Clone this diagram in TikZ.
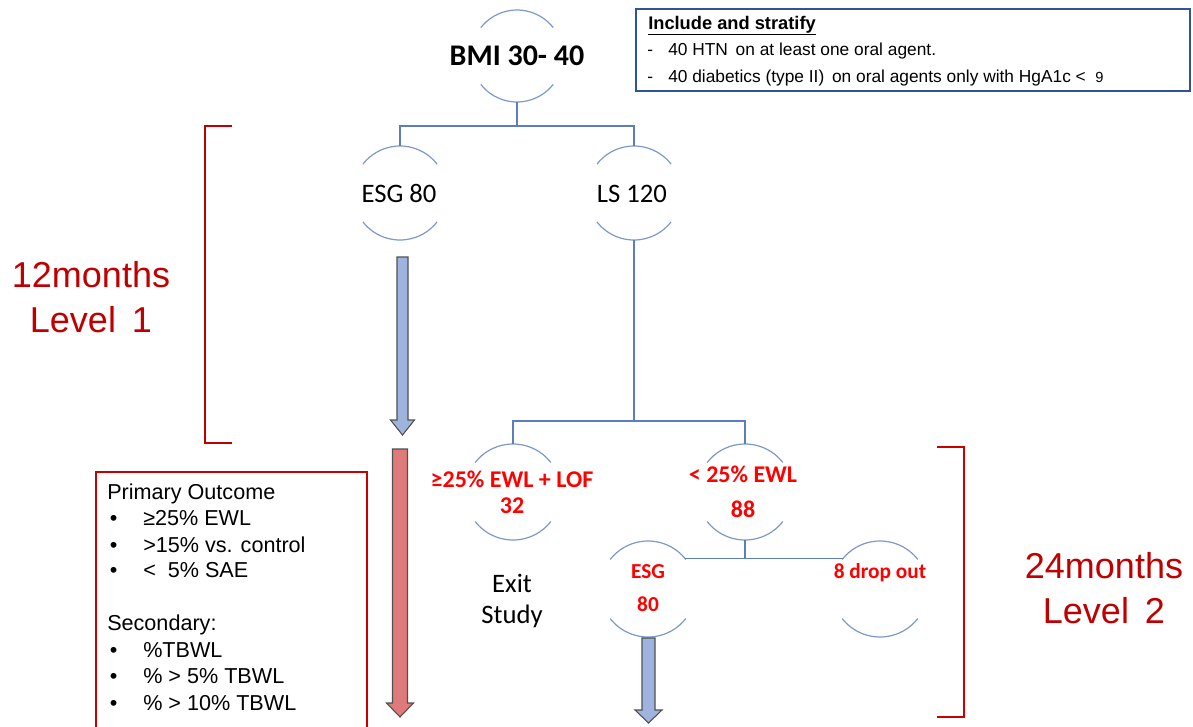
\documentclass[tikz,border=0pt]{standalone}
\usepackage{fontspec}
\setmainfont{Carlito}
\newfontfamily\arial{Liberation Sans}
\definecolor{arcblue}{RGB}{125,152,205}
\definecolor{connblue}{RGB}{92,126,190}
\definecolor{boxblue}{RGB}{47,85,151}
\definecolor{darkred}{RGB}{192,0,0}
\definecolor{brightred}{RGB}{255,0,0}
\definecolor{arrowblue}{RGB}{158,180,222}
\definecolor{arrowred}{RGB}{222,122,122}
\definecolor{arrowedge}{RGB}{80,80,80}
\newcommand{\ringarcs}[2]{%
  \draw[arcline] (#1.38) arc[start angle=38,end angle=142,radius=#2];
  \draw[arcline] (#1.218) arc[start angle=218,end angle=322,radius=#2];}
\newcommand{\fatarrow}[7]{%
  \draw[#1] ({#2-#5},#3) -- ({#2+#5},#3) -- ({#2+#5},{#4-#7}) -- ({#2+#6},{#4-#7})
    -- (#2,#4) -- ({#2-#6},{#4-#7}) -- ({#2-#5},{#4-#7}) -- cycle;}
\newcommand{\bul}[1]{\makebox[27pt][l]{\hspace*{2pt}•}#1}
\begin{document}
\begin{tikzpicture}[x=0.75pt,y=-0.75pt,
  ring/.style={circle,inner sep=0pt,outer sep=0pt,minimum size=#1},
  arcline/.style={draw=arcblue,line width=0.9pt},
  conn/.style={draw=connblue,line width=0.9pt},
  bigtxt/.style={font=\fontsize{22.5}{27}\selectfont\bfseries,anchor=base},
  midtxt/.style={font=\fontsize{20}{24}\selectfont,anchor=base},
  redtxt/.style={font=\fontsize{18}{22}\selectfont\bfseries,text=brightred,anchor=base},
  smallred/.style={font=\fontsize{16}{19}\selectfont\bfseries,text=brightred,anchor=base},
  boxtxt/.style={font=\arial\fontsize{13}{15}\selectfont,anchor=base west,inner sep=0pt},
  listtxt/.style={font=\arial\fontsize{16.2}{19}\selectfont,anchor=base west,inner sep=0pt},
  monthtxt/.style={font=\arial\fontsize{27}{32}\selectfont,text=darkred,anchor=base},
  bluearrow/.style={fill=arrowblue,draw=arrowedge,line width=0.8pt},
  redarrow/.style={fill=arrowred,draw=arrowedge,line width=0.8pt},
  bracketL/.style={draw=darkred,line width=1.4pt},
  bracketR/.style={draw=darkred!80!red,line width=0.9pt}
]
\useasboundingbox (0,0) rectangle (1193,726);

% circles
\node[ring=69pt] (bmi) at (517,56) {};
\node[ring=70.5pt] (esg) at (400,193) {};
\node[ring=70.5pt] (ls) at (634,193) {};
\node[ring=72pt] (hi) at (513,492) {};
\node[ring=72pt] (lo) at (745,492) {};
\node[ring=72pt] (esgb) at (648,589) {};
\node[ring=72pt] (drop) at (880,589) {};
\ringarcs{bmi}{34.5pt}
\ringarcs{esg}{35.25pt}
\ringarcs{ls}{35.25pt}
\ringarcs{hi}{36pt}
\ringarcs{lo}{36pt}
\ringarcs{esgb}{36pt}
\ringarcs{drop}{36pt}

% texts in circles
\node[bigtxt] (bmit) at (517,65) {BMI 30- 40};
\node[midtxt] (esgt) at (399,202) {ESG 80};
\node[midtxt] (lst) at (632,202) {LS 120};
\node[redtxt] (hit1) at (512,487) {≥25\% EWL + LOF};
\node[redtxt] (hit2) at (512,513) {32};
\node[redtxt] (lot1) at (743,482) {< 25\% EWL};
\node[redtxt] (lot2) at (743,517) {88};
\node[smallred] (esgbt1) at (648,578) {ESG};
\node[smallred] (esgbt2) at (648,611) {80};
\node[smallred] (dropt) at (880,578) {8 drop out};
\node[midtxt] (exit1) at (512,592) {Exit};
\node[midtxt] (exit2) at (512,623) {Study};

% connectors
\coordinate (j1) at (517,126);
\coordinate (j2) at (634,421);
\coordinate (j3) at (esgb.40 -| lo.south);
\draw[conn] (bmi.south) -- (j1);
\draw[conn] (esg.north) |- (j1) -| (ls.north);
\draw[conn] (ls.south) -- (j2);
\draw[conn] (hi.north) |- (j2) -| (lo.north);
\draw[conn] (lo.south) -- (j3);
\draw[conn] (esgb.40) -- (j3) -- (drop.140);

% fat arrows
\fatarrow{bluearrow}{402.5}{257}{435}{5.5}{12}{15}
\fatarrow{redarrow}{400}{449}{717}{7.5}{13.5}{14}
\fatarrow{bluearrow}{648.5}{638}{723}{6.5}{13.5}{13}

% top right box
\draw[boxblue,line width=0.9pt] (636,9) rectangle (1190,91);
\node[boxtxt,font=\arial\bfseries\fontsize{13.7}{16}\selectfont] (inc) at (648,29) {\underline{Include and stratify}};
\node[boxtxt] (d1) at (647,55) {-};
\node[boxtxt] (l1) at (668,55) {40 HTN\, on at least one oral agent.};
\node[boxtxt] (d2) at (647,82) {-};
\node[boxtxt] (l2) at (668,82) {40 diabetics (type II)\, on oral agents only with HgA1c <};
\node[boxtxt,font=\arial\fontsize{11}{12}\selectfont] (nine) at (1095,82) {9};

% left outcome box
\draw[darkred!85!red,line width=0.9pt] (96,735) -- (96,472) -- (367,472) -- (367,735);
\node[listtxt] (p0) at (107,499) {Primary Outcome};
\node[listtxt] (p1) at (107,525) {\bul{≥25\% EWL}};
\node[listtxt] (p2) at (107,552) {\bul{>15\% vs. control}};
\node[listtxt] (p3) at (107,577) {\bul{<\; 5\% SAE}};
\node[listtxt] (s0) at (107,630) {Secondary:};
\node[listtxt] (s1) at (107,657) {\bul{\%TBWL}};
\node[listtxt] (s2) at (107,683) {\bul{\% > 5\% TBWL}};
\node[listtxt] (s3) at (107,710) {\bul{\% > 10\% TBWL}};

% brackets
\draw[bracketL] (232,126) -- (205,126) -- (205,443) -- (232,443);
\draw[bracketR] (937,447) -- (964,447) -- (964,717) -- (937,717);

% month labels
\node[monthtxt] (m1a) at (91,287) {12months};
\node[monthtxt] (m1b) at (91,332) {Level\, 1};
\node[monthtxt] (m2a) at (1104,578) {24months};
\node[monthtxt] (m2b) at (1104,623) {Level\, 2};
\end{tikzpicture}
\end{document}
